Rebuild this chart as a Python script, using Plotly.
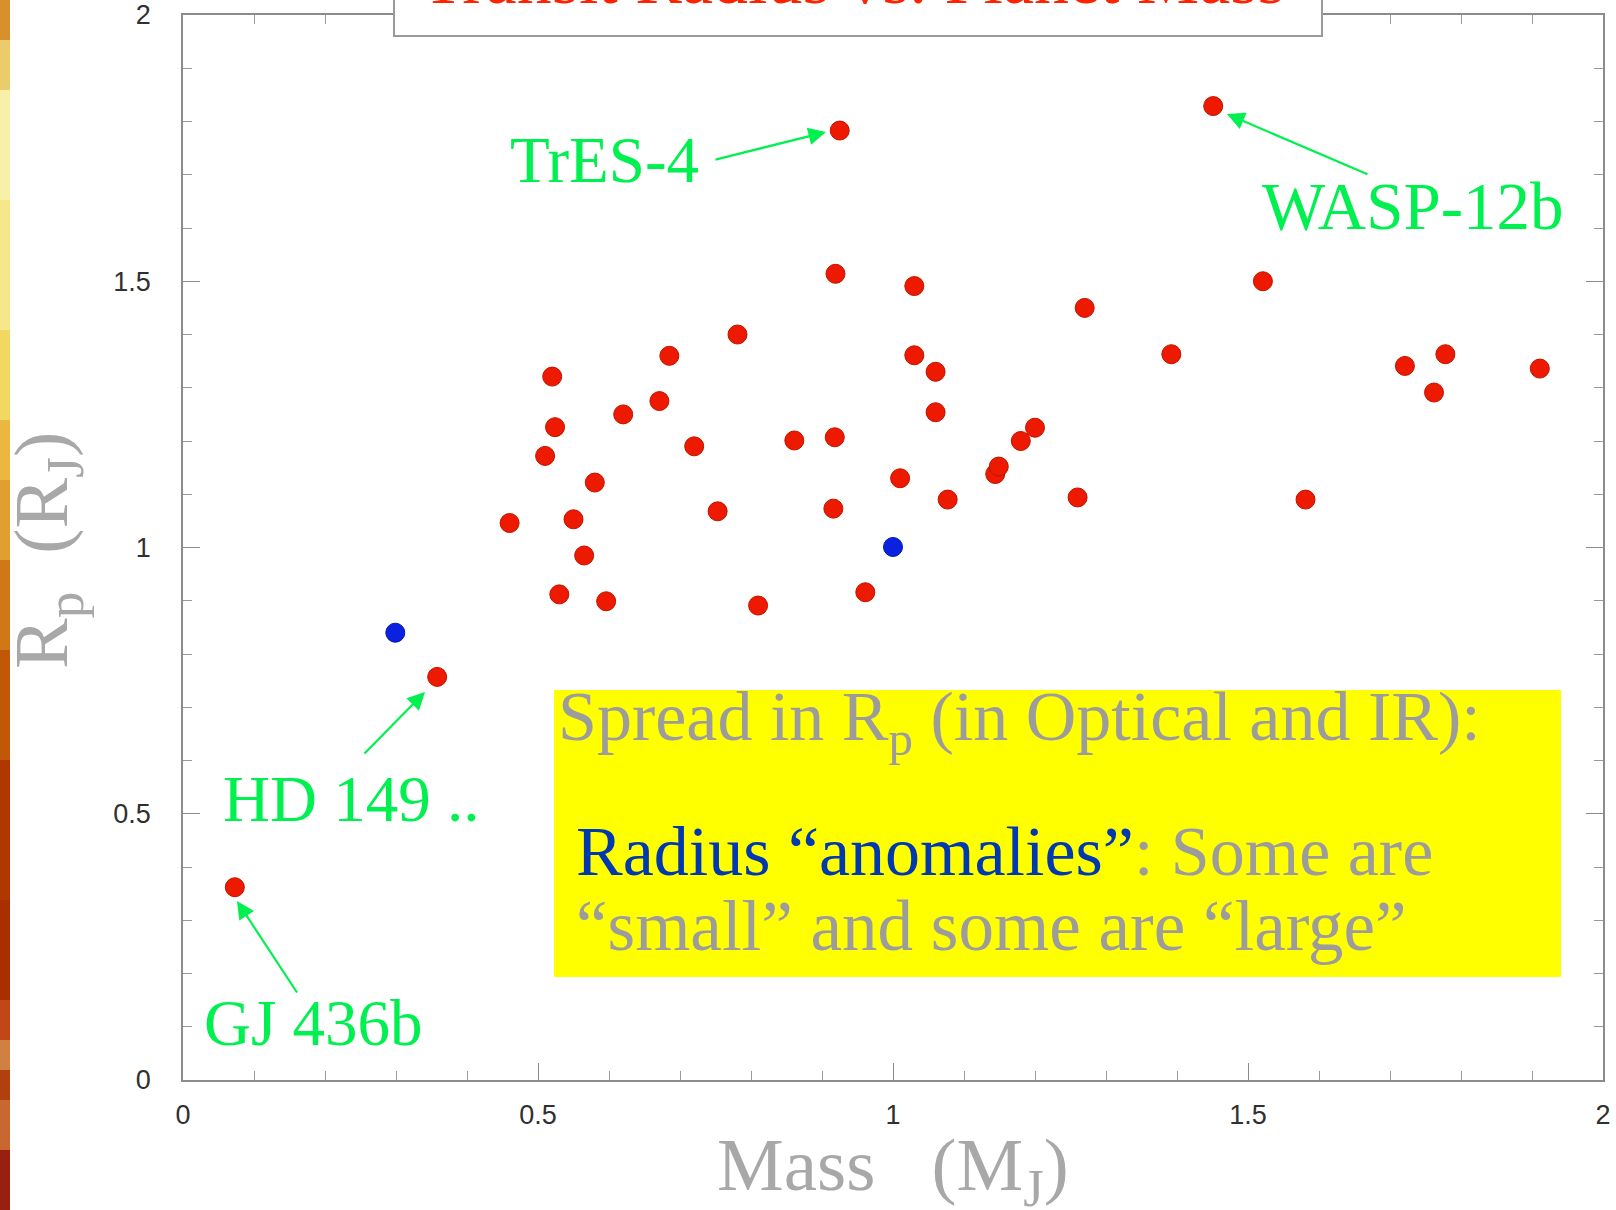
import plotly.graph_objects as go

# ---- data: transiting planets, mass (Jupiter masses) vs radius (Jupiter radii)
mass_red = [0.073, 0.358, 0.460, 0.520, 0.524, 0.510, 0.580, 0.550, 0.565, 0.530,
            0.596, 0.620, 0.671, 0.685, 0.720, 0.753, 0.781, 0.810, 0.861, 0.919,
            0.925, 0.918, 0.916, 0.961, 1.010, 1.030, 1.030, 1.060, 1.060, 1.077,
            1.144, 1.149, 1.180, 1.200, 1.260, 1.270, 1.392, 1.451, 1.521, 1.581,
            1.721, 1.762, 1.778, 1.911]
radius_red = [0.362, 0.757, 1.046, 1.321, 1.226, 1.172, 1.122, 1.053, 0.985, 0.912,
              0.899, 1.250, 1.275, 1.360, 1.190, 1.068, 1.400, 0.891, 1.201, 1.514,
              1.783, 1.207, 1.073, 0.916, 1.130, 1.491, 1.361, 1.330, 1.254, 1.090,
              1.138, 1.152, 1.200, 1.225, 1.094, 1.450, 1.363, 1.829, 1.500, 1.090,
              1.341, 1.291, 1.363, 1.336]

mass_blue = [0.299, 1.000]
radius_blue = [0.840, 1.001]

# named planets: label, point mass, point radius
named = ["TrES-4", "WASP-12b", "HD 149 ..", "GJ 436b"]
named_mass = [0.925, 1.451, 0.358, 0.073]
named_radius = [1.783, 1.829, 0.757, 0.362]

x_ticks = [0, 0.5, 1, 1.5, 2]
y_ticks = [0, 0.5, 1, 1.5, 2]

# ---- page geometry (pixels)
W, H = 1616, 1210
L, R, T, B = 183, 13, 15, 130
PW, PH = W - L - R, H - T - B


def px(x):
    return (x - L) / PW


def py(y):
    return (H - B - y) / PH


def dx(x):
    return (x - L) / PW * 2.0


def dy(y):
    return (H - B - y) / PH * 2.0


fig = go.Figure()

fig.add_trace(go.Scatter(
    x=mass_red, y=radius_red, mode="markers",
    marker=dict(size=19, color="#ee1a00", line=dict(color="#c01200", width=1)),
    showlegend=False, hoverinfo="skip"))
fig.add_trace(go.Scatter(
    x=mass_blue, y=radius_blue, mode="markers",
    marker=dict(size=19, color="#0a22e0", line=dict(color="#0616b0", width=1)),
    showlegend=False, hoverinfo="skip"))

green = "#00f050"
grey_txt = "#9c9c9c"
serif = "Liberation Serif, Times New Roman, serif"

annotations = []

# arrows: tail (label side) -> head (near the planet)
arrow_tails = [(714, 160), (1369, 175), (363, 755), (298, 994)]
arrow_heads = [(826, 132), (1227, 114), (425, 692), (237, 901)]
for (tx, ty), (hx, hy) in zip(arrow_tails, arrow_heads):
    annotations.append(dict(
        x=dx(hx), y=dy(hy), ax=dx(tx), ay=dy(ty), xref="x", yref="y",
        axref="x", ayref="y", text="", showarrow=True, arrowhead=2,
        arrowsize=1.6, arrowwidth=2.2, arrowcolor=green, standoff=0))

label_pos = [(604, 160), (1413, 206), (351, 799), (313, 1023)]
label_size = [65, 67, 65, 65]
for name, (lx, ly), fs in zip(named, label_pos, label_size):
    annotations.append(dict(
        x=px(lx), y=py(ly), xref="paper", yref="paper", text=name,
        showarrow=False, xanchor="center", yanchor="middle",
        font=dict(family=serif, size=fs, color=green)))

# title (partly above the page edge)
annotations.append(dict(
    x=px(853), y=py(-20), xref="paper", yref="paper",
    text="Transit Radius vs. Planet Mass", showarrow=False,
    xanchor="center", yanchor="middle",
    font=dict(family=serif, size=70, color="#ff2200")))

# note box text
annotations.append(dict(
    x=px(556), y=py(722), xref="paper", yref="paper",
    text="Spread in R<sub>p</sub> (in Optical and IR):", showarrow=False,
    xanchor="left", yanchor="middle",
    font=dict(family=serif, size=70, color=grey_txt)))
annotations.append(dict(
    x=px(574), y=py(851), xref="paper", yref="paper",
    text='<span style="color:#0038b0">Radius \u201canomalies\u201d</span>: Some are',
    showarrow=False, xanchor="left", yanchor="middle",
    font=dict(family=serif, size=70, color=grey_txt)))
annotations.append(dict(
    x=px(574), y=py(926), xref="paper", yref="paper",
    text="\u201csmall\u201d and some are \u201clarge\u201d", showarrow=False,
    xanchor="left", yanchor="middle",
    font=dict(family=serif, size=71, color=grey_txt)))

# axis titles
annotations.append(dict(
    x=px(893), y=py(1170), xref="paper", yref="paper",
    text="Mass   (M<sub>J</sub>)", showarrow=False,
    xanchor="center", yanchor="middle",
    font=dict(family=serif, size=75, color="#a8a8a8")))
annotations.append(dict(
    x=px(47), y=py(551), xref="paper", yref="paper",
    text="R<sub>p</sub>  (R<sub>J</sub>)", showarrow=False, textangle=-90,
    xanchor="center", yanchor="middle",
    font=dict(family=serif, size=76, color="#a8a8a8")))

shapes = []

# decorative strip along the left page edge
strip = [(0, 40, "#d8902c"), (40, 90, "#eccc6a"), (90, 200, "#f8f0a8"),
         (200, 330, "#f6e88a"), (330, 420, "#f2d860"), (420, 480, "#eab840"),
         (480, 560, "#e0a030"), (560, 650, "#d07818"), (650, 760, "#c05808"),
         (760, 900, "#b03800"), (900, 1000, "#a83000"), (1000, 1040, "#c04818"),
         (1040, 1070, "#d08040"), (1070, 1100, "#b04010"), (1100, 1150, "#c86830"),
         (1150, 1210, "#982010")]
for y0, y1, c in strip:
    shapes.append(dict(type="rect", xref="paper", yref="paper",
                       x0=px(0), x1=px(10), y0=py(y1), y1=py(y0),
                       fillcolor=c, line=dict(width=0), layer="above"))

# yellow note box
shapes.append(dict(type="rect", xref="paper", yref="paper",
                   x0=px(554), x1=px(1561), y0=py(977), y1=py(690),
                   fillcolor="#ffff00", line=dict(width=0), layer="below"))

# title box
shapes.append(dict(type="rect", xref="paper", yref="paper",
                   x0=px(394), x1=px(1322), y0=py(36), y1=py(-30),
                   fillcolor="white", line=dict(color="#9a9a9a", width=2),
                   layer="above"))

axis_common = dict(
    range=[0, 2], showgrid=False, zeroline=False, automargin=False,
    showline=True, linecolor="#8c8c8c", linewidth=1.5, mirror="allticks",
    ticks="inside", ticklen=17, tickwidth=1.3, tickcolor="#8c8c8c",
    minor=dict(dtick=0.1, ticks="inside", ticklen=9, tickwidth=1.2,
               tickcolor="#9a9a9a", showgrid=False),
    tickfont=dict(family="Liberation Sans, Arial, sans-serif", size=27,
                  color="#303030"),
    fixedrange=True,
)

fig.update_layout(
    width=W, height=H,
    margin=dict(l=L, r=R, t=T, b=B, pad=0, autoexpand=False),
    paper_bgcolor="white", plot_bgcolor="white",
    xaxis=dict(tickvals=x_ticks, ticktext=[f"{v:g}" for v in x_ticks],
               ticklabelstandoff=10, **axis_common),
    yaxis=dict(tickvals=y_ticks, ticktext=[f"{v:g}" for v in y_ticks],
               ticklabelstandoff=25, **axis_common),
    annotations=annotations,
    shapes=shapes,
)

fig.write_html("out.html")
